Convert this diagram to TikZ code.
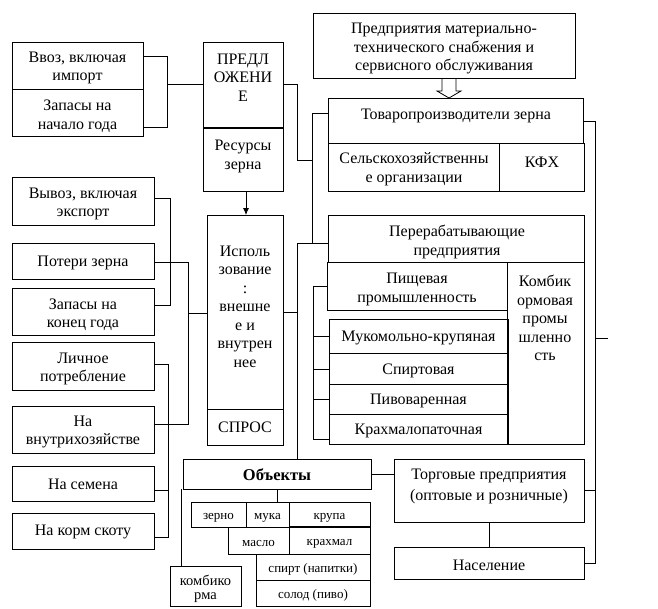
\documentclass[tikz,border=0pt]{standalone}
\usepackage{fontspec}
\setmainfont{Liberation Serif}
\usetikzlibrary{arrows.meta}
\newcommand\Bx[5]{\node[bx, minimum width={(#4-#2)*1pt}, minimum height={(#5-#3)*1pt}] (#1) at ({(#2+#4)/2},{(#3+#5)/2}) {};}
\newcommand\Tx[5][tx]{\node[#1] (#2) at (#3,#4) {#5};}
\begin{document}
\begin{tikzpicture}[x=1pt,y=-1pt,
  bx/.style={draw, line width=0.8pt, inner sep=0pt, outer sep=0pt},
  tx/.style={align=center, inner sep=0pt, yshift=-2pt, font=\fontsize{16}{18.5}\selectfont},
  txw/.style={align=center, inner sep=0pt, yshift=-2pt, font=\fontsize{16}{21}\selectfont},
  sm/.style={align=center, inner sep=0pt, yshift=-2.5pt, font=\fontsize{13}{14}\selectfont},
  smk/.style={align=center, inner sep=0pt, yshift=-1.5pt, font=\fontsize{14.5}{14}\selectfont},
  bd/.style={align=center, inner sep=0pt, yshift=-1pt, font=\fontsize{16.5}{18}\selectfont\bfseries},
  ln/.style={line width=0.8pt},
  arr/.style={ln, -{Latex[length=7pt,width=6pt]}}]
\useasboundingbox (0,0) rectangle (658,608);
% ---------- boxes ----------
\Bx{vvoz}{12}{42}{143}{89}
\Bx{zapnach}{12}{89}{143}{136}
\Bx{predl}{203}{42}{283}{128}
\Bx{res}{203}{128}{283}{191}
\Bx{mts}{313}{13}{575}{78}
\Bx{tovar}{328}{98}{583}{143}
\Bx{selx}{328}{143}{499}{191}
\Bx{kfx}{499}{143}{584}{191}
\Bx{pererab}{328}{215}{584}{262}
\Bx{pisch}{327}{262}{507}{310}
\Bx{kombprom}{507}{262}{584}{444}
\Bx{muk}{329}{319}{508}{353}
\Bx{spirt}{329}{353}{508}{384}
\Bx{piv}{329}{384}{508}{414}
\Bx{kraxm}{329}{414}{508}{444}
\Bx{isp}{207}{215}{283}{409}
\Bx{spros}{207}{409}{283}{445}
\Bx{vyvoz}{12}{177}{154}{225}
\Bx{poteri}{12}{243}{154}{279}
\Bx{zapkon}{12}{288}{154}{335}
\Bx{lichn}{12}{342}{154}{390}
\Bx{vnutri}{12}{406}{154}{453}
\Bx{semena}{12}{466}{154}{501}
\Bx{korm}{12}{513}{154}{549}
\Bx{obj}{183}{459}{371}{489}
\Bx{torg}{394}{459}{584}{522}
\Bx{nasel}{394}{547}{584}{579}
\Bx{zerno}{191}{502}{246}{527}
\Bx{muka}{246}{502}{289}{527}
\Bx{krupa}{289}{502}{370}{527}
\Bx{maslo}{228}{527}{289}{554}
\Bx{krax}{289}{527}{370}{554}
\Bx{spn}{256}{554}{370}{580}
\Bx{solod}{256}{580}{370}{606}
\Bx{kombi}{170}{566}{241}{606}
\draw[line width=1.8pt] (predl.south west) -- (predl.south east);
\draw[line width=1.6pt] (krupa.south west) -- (krupa.south east);
% ---------- texts ----------
\Tx{t-vvoz}{77.5}{66}{Ввоз, включая\\импорт}
\Tx{t-zapnach}{77.5}{114}{Запасы на\\начало года}
\Tx{t-predl}{243}{75.5}{ПРЕДЛ\\ОЖЕНИ\\Е}
\Tx{t-res}{243}{154.5}{Ресурсы\\зерна}
\Tx{t-mts}{444}{46.5}{Предприятия материально-\\технического снабжения и\\сервисного обслуживания}
\Tx{t-tovar}{456}{114}{Товаропроизводители зерна}
\Tx{t-selx}{414}{167}{Сельскохозяйственны\\е организации}
\Tx{t-kfx}{542}{160}{КФХ}
\Tx{t-pererab}{457}{240}{Перерабатывающие\\предприятия}
\Tx{t-pisch}{417}{287.5}{Пищевая\\промышленность}
\Tx{t-kombprom}{545}{316}{Комбик\\ормовая\\промы\\шленно\\сть}
\Tx{t-muk}{418.5}{336}{Мукомольно-крупяная}
\Tx{t-spirt}{418.5}{369}{Спиртовая}
\Tx{t-piv}{418.5}{399}{Пивоваренная}
\Tx{t-kraxm}{418.5}{429}{Крахмалопаточная}
\Tx{t-isp}{245}{304.5}{Исполь\\зование\\:\\внешне\\е и\\внутрен\\нее}
\Tx{t-spros}{245}{425}{СПРОС}
\Tx{t-vyvoz}{83}{202}{Вывоз, включая\\экспорт}
\Tx{t-poteri}{83}{261}{Потери зерна}
\Tx{t-zapkon}{83}{312.5}{Запасы на\\конец года}
\Tx{t-lichn}{83}{367}{Личное\\потребление}
\Tx{t-vnutri}{83}{430}{На\\внутрихозяйстве}
\Tx{t-semena}{83}{482}{На семена}
\Tx{t-korm}{83}{530}{На корм скоту}
\Tx[bd]{t-obj}{277}{474}{Объекты}
\Tx[txw]{t-torg}{489}{484.5}{Торговые предприятия\\(оптовые и розничные)}
\Tx{t-nasel}{489}{563}{Население}
\Tx[sm]{t-zerno}{218.5}{515}{зерно}
\Tx[sm]{t-muka}{267.5}{515}{мука}
\Tx[sm]{t-krupa}{329.5}{515}{крупа}
\Tx[sm]{t-maslo}{258.5}{541}{масло}
\Tx[sm]{t-krax}{329.5}{541}{крахмал}
\Tx[sm]{t-spn}{313}{567}{спирт (напитки)}
\Tx[sm]{t-solod}{313}{593}{солод (пиво)}
\Tx[smk]{t-kombi}{205.5}{587}{комбико\\рма}
% ---------- connectors ----------
% supply side
\draw[ln] (vvoz.east |- 0,56) -- (167,56) -- (167,127) -- (zapnach.east |- 0,127);
\draw[ln] (167,84) -- (predl.west |- 0,84);
\draw[ln] (predl.east |- 0,84) -- (297,84) -- (297,160) -- (312,160);
\draw[ln] (tovar.west |- 0,113) -- (312,113) -- (312,243);
\draw[ln] (pererab.west |- 0,243) -- (297,243) -- (obj.north -| 297,0);
\draw[ln] (isp.east |- 0,312) -- (297,312);
% hollow arrow from mts to tovar
\draw[ln] (mts.south -| 442,0) -- (442,91) -- (437,91) -- (tovar.north -| 449,0) -- (461,91) -- (456,91) -- (mts.south -| 456,0);
% resources -> use
\draw[arr] (res.south -| 246,0) -- (isp.north -| 246,0);
% right bus
\coordinate (stub) at (608,338);
\draw[ln] (tovar.east |- 0,121) -- (595,121) -- (595,563) -- (nasel.east |- 0,563);
\draw[ln] (torg.east |- 0,490) -- (595,490);
\draw[ln] (595,338) -- (stub);
% processing bracket
\draw[ln] (pisch.west |- 0,286) -- (313,286) -- (313,439) -- (kraxm.west |- 0,439);
\draw[ln] (313,336) -- (muk.west |- 0,336);
\draw[ln] (313,369) -- (spirt.west |- 0,369);
\draw[ln] (313,399) -- (piv.west |- 0,399);
% usage brackets on the left
\draw[ln] (vyvoz.east |- 0,198) -- (170,198) -- (170,305) -- (zapkon.east |- 0,305);
\draw[ln] (poteri.east |- 0,262) -- (188,262) -- (188,424) -- (vnutri.east |- 0,424);
\draw[ln] (188,313) -- (isp.west |- 0,313);
\draw[ln] (lichn.east |- 0,364) -- (168,364) -- (168,537) -- (korm.east |- 0,537);
\draw[ln] (semena.east |- 0,490) -- (168,490);
% objects
\draw[ln] (obj.east) -- (torg.west |- obj.east);
\draw[ln] (torg.south) -- (nasel.north);
\draw[ln] (obj.south) -- (muka.north -| obj.south);
\draw[ln] (obj.south west -| 181,0) -- (kombi.north -| 181,0);
\end{tikzpicture}
\end{document}
